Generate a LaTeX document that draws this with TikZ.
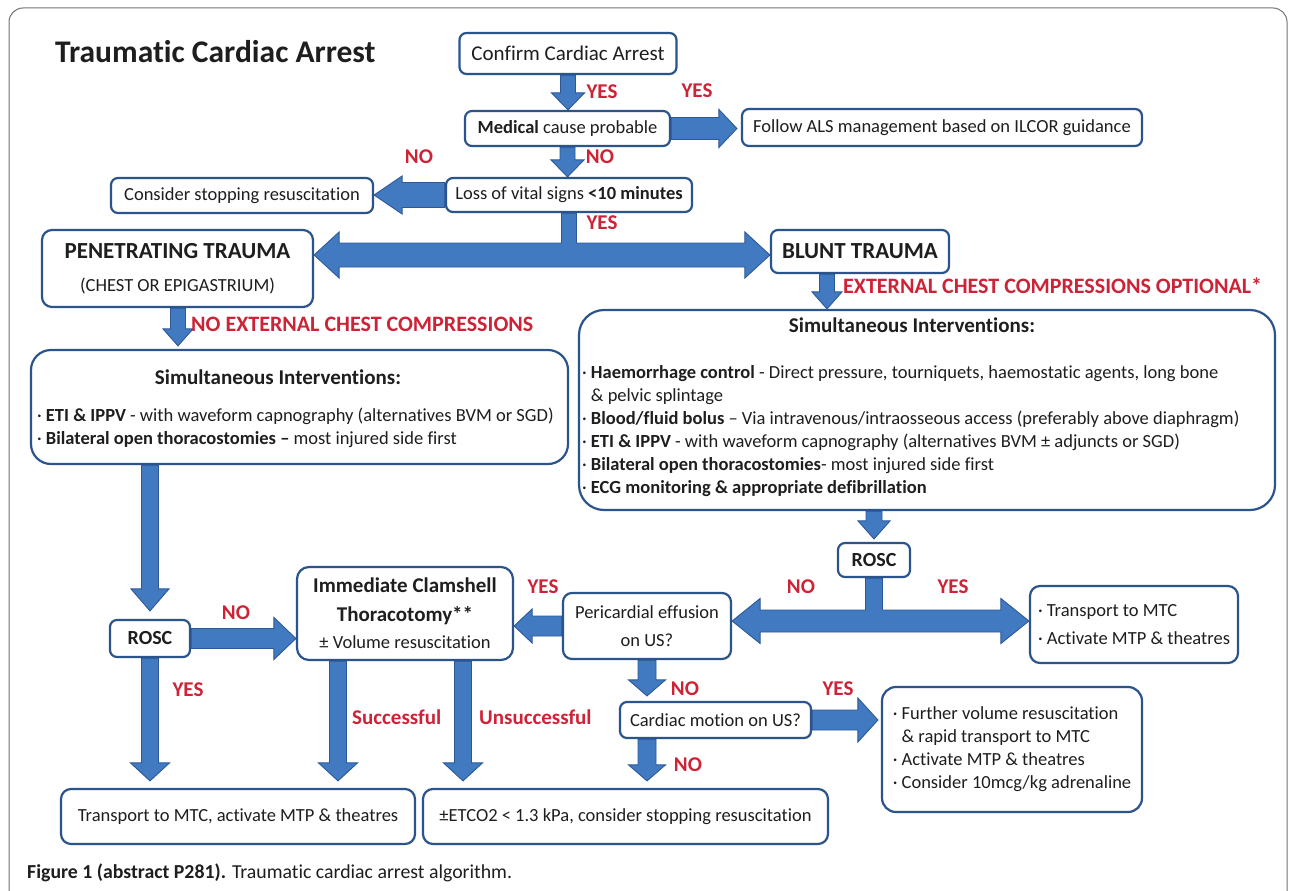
\documentclass[tikz,border=0pt]{standalone}
\usepackage{fontspec}
\setmainfont{Carlito}[Ligatures={NoCommon}]
\usetikzlibrary{calc}
\definecolor{arrfill}{RGB}{66,122,194}
\definecolor{arrline}{RGB}{44,88,150}
\definecolor{boxline}{RGB}{44,84,140}
\definecolor{lblred}{RGB}{205,35,55}
\definecolor{txt}{RGB}{30,30,30}
\pgfdeclarelayer{back}
\pgfdeclarelayer{bg}
\pgfsetlayers{back,bg,main}
% block arrows: start, end, shaft half width, head half width, head length
\newcommand{\arrD}[5]{\path[barrow] let \p1=#1, \p2=#2 in (\x1-#3,\y1) -- (\x1-#3,\y2+#5) -- (\x1-#4,\y2+#5) -- (\x1,\y2) -- (\x1+#4,\y2+#5) -- (\x1+#3,\y2+#5) -- (\x1+#3,\y1) -- cycle;}
\newcommand{\arrR}[5]{\path[barrow] let \p1=#1, \p2=#2 in (\x1,\y1+#3) -- (\x2-#5,\y1+#3) -- (\x2-#5,\y1+#4) -- (\x2,\y1) -- (\x2-#5,\y1-#4) -- (\x2-#5,\y1-#3) -- (\x1,\y1-#3) -- cycle;}
\newcommand{\arrL}[5]{\path[barrow] let \p1=#1, \p2=#2 in (\x1,\y1+#3) -- (\x2+#5,\y1+#3) -- (\x2+#5,\y1+#4) -- (\x2,\y1) -- (\x2+#5,\y1-#4) -- (\x2+#5,\y1-#3) -- (\x1,\y1-#3) -- cycle;}
% T-shaped double arrow: stem top, left tip, right tip, stem half, shaft half, head half, head length
\newcommand{\arrT}[7]{\path[barrow] let \p1=#1, \p2=#2, \p3=#3 in (\x1-#4,\y1) -- (\x1-#4,\y2+#5) -- (\x2+#7,\y2+#5) -- (\x2+#7,\y2+#6) -- (\x2,\y2) -- (\x2+#7,\y2-#6) -- (\x2+#7,\y2-#5) -- (\x3-#7,\y2-#5) -- (\x3-#7,\y2-#6) -- (\x3,\y2) -- (\x3-#7,\y2+#6) -- (\x3-#7,\y2+#5) -- (\x1+#4,\y2+#5) -- (\x1+#4,\y1) -- cycle;}
\begin{document}
\begin{tikzpicture}[x=1pt,y=-1pt,
  box/.style={draw=boxline, line width=2.2pt, rounded corners=7pt, fill=white, text=txt,
    font=\fontsize{18.5}{23}\selectfont, inner sep=0pt, align=center},
  lbl/.style={text=lblred, font=\bfseries\fontsize{21}{21}\selectfont, inner sep=0pt},
  biglbl/.style={lbl, anchor=west, font=\bfseries\fontsize{22}{22}\selectfont},
  txtn/.style={text=txt, inner sep=0pt, font=\fontsize{18.5}{23}\selectfont, align=left},
  barrow/.style={fill=arrfill, draw=arrline, line width=0.9pt, line join=miter}]
\useasboundingbox (0,0) rectangle (1290,891);
\begin{pgfonlayer}{back}
\fill[white] (0,0) rectangle (1290,891);
\draw[black!55, line width=1pt, rounded corners=14pt] (9,8) rectangle (1287,905);
\end{pgfonlayer}

% title and caption
\node[anchor=west, inner sep=0pt, text=txt, font=\bfseries\fontsize{31.5}{30}\selectfont] (title) at (55,52) {Traumatic Cardiac Arrest};
\node[anchor=west, inner sep=0pt, text=txt, font=\fontsize{19.8}{22}\selectfont] (caption) at (27,873) {\textbf{Figure 1 (abstract P281).} Traumatic cardiac arrest algorithm.};

% boxes
\node[box, minimum width=217pt, minimum height=41pt, font=\fontsize{21}{23}\selectfont] (confirm) at (568,53.5) {Confirm Cardiac Arrest};
\node[box, minimum width=205pt, minimum height=35pt] (medical) at (567.5,128.5) {\textbf{Medical} cause probable};
\node[box, minimum width=400pt, minimum height=37pt] (follow) at (942,127.5) {Follow ALS management based on ILCOR guidance};
\node[box, minimum width=246pt, minimum height=34pt] (loss) at (569,195) {Loss of vital signs \textbf{<10 minutes}};
\node[box, minimum width=262pt, minimum height=35pt] (consider) at (242,195.5) {Consider stopping resuscitation};
\node[box, minimum width=271pt, minimum height=77pt, rounded corners=10pt] (pen) at (177.5,268.5) {\rule{0pt}{6pt}{\bfseries\fontsize{23}{23}\selectfont PENETRATING TRAUMA}\\[10pt](CHEST OR EPIGASTRIUM)};
\node[box, minimum width=178pt, minimum height=43pt] (blunt) at (860,251.5) {\bfseries\fontsize{23}{23}\selectfont BLUNT TRAUMA};

\node[box, minimum width=537pt, minimum height=114pt, rounded corners=20pt] (simL) at (299.5,407) {};
\node[txtn, font=\bfseries\fontsize{21}{23}\selectfont] (simLt) at ($(simL.north)+(-21.5,28)$) {Simultaneous Interventions:};
\node[txtn, anchor=north west] (simLi) at ($(simL.north west)+(7,59)$) {· \textbf{ETI \& IPPV} - with waveform capnography (alternatives BVM or SGD)\\· \textbf{Bilateral open thoracostomies –} most injured side first};

\node[box, minimum width=696pt, minimum height=200pt, rounded corners=25pt] (simR) at (927,410) {};
\node[txtn, font=\bfseries\fontsize{21}{23}\selectfont] (simRt) at ($(simR.north)+(-15,16)$) {Simultaneous Interventions:};
\node[txtn, anchor=north west] (simRi) at ($(simR.north west)+(4,56)$) {· \textbf{Haemorrhage control} - Direct pressure, tourniquets, haemostatic agents, long bone\\
\phantom{· }\& pelvic splintage\\
· \textbf{Blood/fluid bolus} – Via intravenous/intraosseous access (preferably above diaphragm)\\
· \textbf{ETI \& IPPV} - with waveform capnography (alternatives BVM ± adjuncts or SGD)\\
· \textbf{Bilateral open thoracostomies}- most injured side first\\
· \textbf{ECG monitoring \& appropriate defibrillation}};

\node[box, minimum width=80pt, minimum height=37pt] (roscL) at (150,638.5) {\bfseries\fontsize{20}{20}\selectfont ROSC};
\node[box, minimum width=216pt, minimum height=93pt, rounded corners=12pt] (clam) at (405,613.5) {{\bfseries\fontsize{21}{21}\selectfont Immediate Clamshell}\\[6pt]{\bfseries\fontsize{21}{21}\selectfont Thoracotomy**}\\[4pt]± Volume resuscitation};
\node[box, minimum width=168pt, minimum height=66pt, rounded corners=9pt] (peri) at (647,626) {Pericardial effusion\\[5pt]on US?};
\node[box, minimum width=72pt, minimum height=34pt] (roscR) at (874,560) {\bfseries\fontsize{20}{20}\selectfont ROSC};
\node[box, minimum width=208pt, minimum height=77pt, rounded corners=10pt, align=left] (transp) at (1134,624.5) {· Transport to MTC\\[5pt]· Activate MTP \& theatres};
\node[box, minimum width=191pt, minimum height=36pt] (cardiac) at (715.5,720) {Cardiac motion on US?};
\node[box, minimum width=260pt, minimum height=125pt, rounded corners=14pt, align=left] (further) at (1012,749.5) {· Further volume resuscitation\\\phantom{· }\& rapid transport to MTC\\· Activate MTP \& theatres\\· Consider 10mcg/kg adrenaline};
\node[box, minimum width=354pt, minimum height=55pt, rounded corners=10pt] (botL) at (238,816.5) {Transport to MTC, activate MTP \& theatres};
\node[box, minimum width=405pt, minimum height=55pt, rounded corners=10pt] (botM) at (625.5,816.5) {±ETCO2 < 1.3 kPa, consider stopping resuscitation};

\coordinate (split) at (569,255);
\coordinate (split2) at (874,621);

% arrows
\begin{pgfonlayer}{bg}
\arrD{(confirm.south)}{(medical.north)}{7.5pt}{16.5pt}{17pt}
\arrR{(medical.east)}{($(follow.west)+(-4,0)$)}{11pt}{19pt}{18pt}
\arrD{(medical.south)}{(loss.north)}{7.5pt}{16.5pt}{17pt}
\arrL{(loss.west)}{(consider.east)}{12.5pt}{19pt}{28pt}
\arrT{(loss.south)}{(pen.east |- split)}{(blunt.west |- split)}{7.5pt}{12pt}{23pt}{25pt}
\arrD{($(blunt.south)+(-33,0)$)}{(simR.north)}{7.5pt}{15pt}{17pt}
\arrD{($(pen.south)+(0.5,0)$)}{($(simL.north)+(0,-3)$)}{7.5pt}{15pt}{17pt}
\arrD{(roscL.north |- simL.south)}{($(roscL.north)+(0,-8)$)}{8.5pt}{19pt}{22pt}
\arrR{(roscL.east)}{(clam.west)}{10pt}{21pt}{22pt}
\arrD{(roscL.south)}{($(botL.north)+(0,-7)$)}{8.5pt}{19.5pt}{18pt}
\arrD{($(clam.south)+(-67,0)$)}{($(botL.north)+(0,-7)$)}{8.5pt}{19.5pt}{18pt}
\arrD{($(clam.south)+(58,0)$)}{($(botM.north)+(0,-7)$)}{8.5pt}{19.5pt}{18pt}
\arrL{(peri.west)}{(clam.east)}{10pt}{17pt}{18pt}
\arrD{(roscR.north |- simR.south)}{($(roscR.north)+(0,-3)$)}{8pt}{16pt}{18pt}
\arrT{(roscR.south)}{(peri.east |- split2)}{(transp.west |- split2)}{8.5pt}{11pt}{22.5pt}{28pt}
\arrD{(peri.south)}{($(cardiac.north)+(0,-5)$)}{9pt}{18.5pt}{16pt}
\arrR{(cardiac.east)}{($(further.west)+(-3,0)$)}{10pt}{22pt}{20pt}
\arrD{(peri.south |- cardiac.south)}{($(botM.north)+(0,-7)$)}{9pt}{18.5pt}{16pt}
\end{pgfonlayer}

% labels
\node[lbl] (y1) at (602,92) {YES};
\node[lbl] (y2) at (697,91) {YES};
\node[lbl] (n1) at (600,157) {NO};
\node[lbl] (n2) at (419,157) {NO};
\node[lbl] (y3) at (602,223) {YES};
\node[biglbl] (ext) at (843,286) {EXTERNAL CHEST COMPRESSIONS OPTIONAL*};
\node[biglbl] (noext) at (191,324) {NO EXTERNAL CHEST COMPRESSIONS};
\node[lbl] (n3) at (236,613) {NO};
\node[lbl] (y4) at (543,587) {YES};
\node[lbl] (y5) at (188,690) {YES};
\node[lbl, anchor=west] (succ) at (352,717) {Successful};
\node[lbl, anchor=west] (unsucc) at (479,717) {Unsuccessful};
\node[lbl] (n4) at (801,587) {NO};
\node[lbl] (y6) at (953,587) {YES};
\node[lbl] (n5) at (685,689) {NO};
\node[lbl] (y7) at (838,689) {YES};
\node[lbl] (n6) at (688,765) {NO};
\end{tikzpicture}
\end{document}
